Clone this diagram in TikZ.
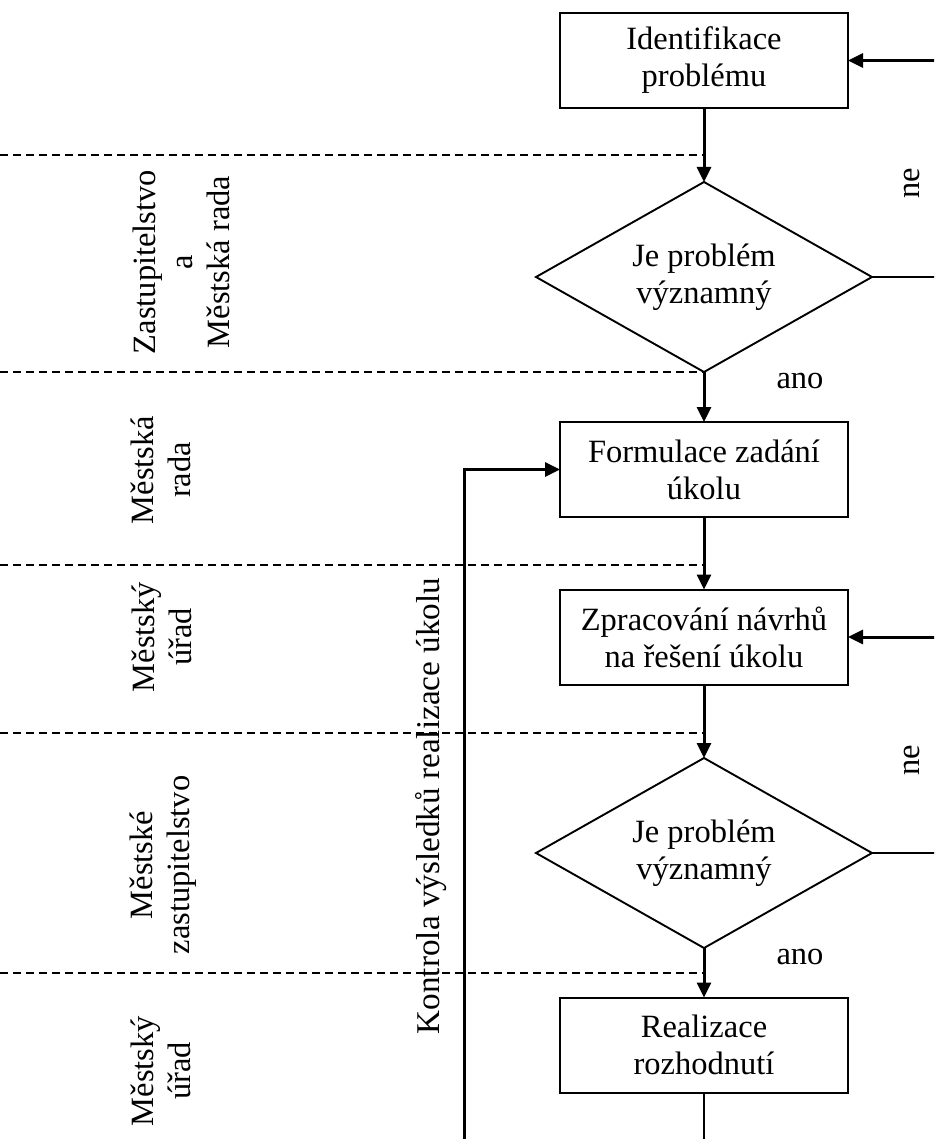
\documentclass[tikz,border=0pt]{standalone}
\usepackage{fontspec}
\setmainfont{Liberation Serif}
\usetikzlibrary{shapes.geometric,arrows.meta}
\begin{document}
\begin{tikzpicture}[x=1pt,y=-1pt,
  every node/.style={font=\fontsize{32.5}{37}\selectfont, inner sep=0pt, outer sep=0pt},
  proc/.style={draw, line width=2pt, minimum width=288pt, minimum height=95pt, align=center},
  decision/.style={draw, diamond, aspect=1.76, line width=1.9pt,
                   minimum width=336pt, minimum height=190pt, align=center},
  flow/.style={line width=3pt, -{Triangle[length=15pt,width=14pt]}},
  plain/.style={line width=2pt},
  lane/.style={line width=1.6pt, dash pattern=on 8pt off 5pt},
  role/.style={rotate=90, align=center},
]
\clip (0,0) rectangle (934,1139);

% lane separators
\foreach \y in {155,372,565,733,973}
  \draw[lane] (0,\y) -- (704,\y);

% process steps and decisions
\node[proc] (b1) at (704,60.5) {Identifikace\\problému};
\node[decision] (d1) at (704,277) {Je problém\\významný};
\node[proc] (b2) at (704,469.5) {Formulace zadání\\úkolu};
\node[proc] (b3) at (704,637) {Zpracování návrhů\\na řešení úkolu};
\node[decision] (d2) at (704,853) {Je problém\\významný};
\node[proc] (b4) at (704,1045) {Realizace\\rozhodnutí};

% responsible bodies
\node[role] (r1) at (181,262) {Zastupitelstvo\\a\\Městská rada};
\node[role] (r2) at (161,470) {Městská\\rada};
\node[role] (r3) at (162,637) {Městský\\úřad};
\node[role] (r4) at (163,865) {Městské\\zastupitelstvo};
\node[role] (r5) at (161,1071) {Městský\\úřad};
\node[role, font=\fontsize{33.2}{37}\selectfont] (ctl) at (431,806) {Kontrola výsledků realizace úkolu};

% branch labels
\node (ano1) at (800,381) {ano};
\node (ano2) at (800,957) {ano};
\node[rotate=90] (ne1) at (912,183) {ne};
\node[rotate=90] (ne2) at (912,760) {ne};

% main flow
\draw[flow] (b1) -- (d1);
\draw[flow] (d1) -- (b2);
\draw[flow] (b2) -- (b3);
\draw[flow] (b3) -- (d2);
\draw[flow] (d2) -- (b4);
\coordinate (out) at (704,1160);
\draw[plain] (b4) -- (out);

% feedback from the result check
\coordinate (fb) at (464,1160);
\draw[flow] (fb) |- (b2.west);

% "ne" loops on the right
\coordinate (n1) at (950,277);
\coordinate (n2) at (950,853);
\draw[plain] (d1.east) -- (n1);
\draw[flow] (n1) |- (b1.east);
\draw[plain] (d2.east) -- (n2);
\draw[flow] (n2) |- (b3.east);
\end{tikzpicture}
\end{document}
